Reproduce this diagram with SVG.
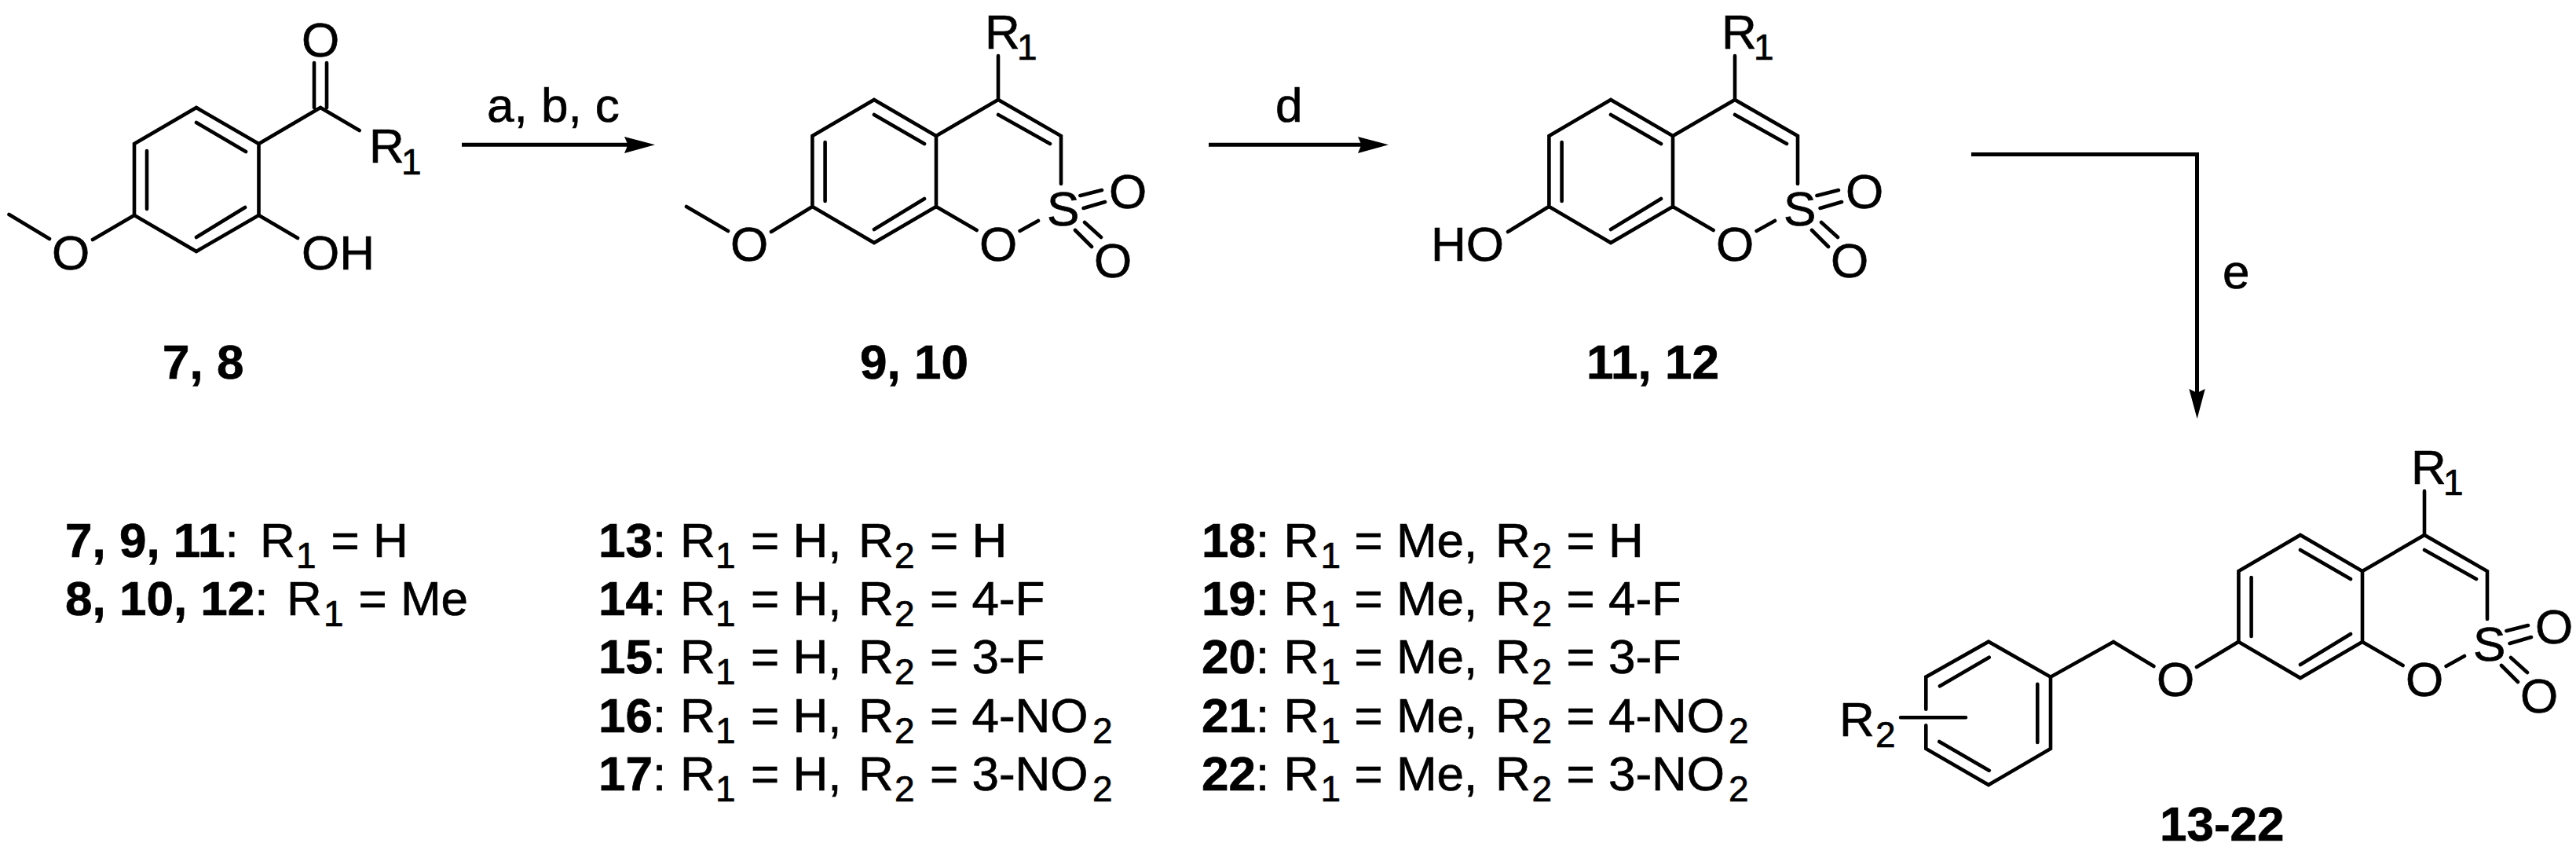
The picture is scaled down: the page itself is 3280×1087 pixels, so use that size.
<svg xmlns="http://www.w3.org/2000/svg" width="3280" height="1087" viewBox="0 0 3280 1087">
<style>
text{font-family:"Liberation Sans",Arial,sans-serif;font-size:62px;fill:#000;stroke:#000;stroke-width:.7}
.b{font-weight:700}
.s{font-size:46px}
.bond{fill:none;stroke:#000;stroke-width:4.6;stroke-linecap:round;stroke-linejoin:miter}
.arr{fill:none;stroke:#000;stroke-width:5}
.head{fill:#000;stroke:none}
</style>
<defs>
<g id="core">
<path class="bond" d="M1034.4 173L1113 127L1192 173L1192 263L1113 309L1034.4 263ZM1192 173L1271 127L1351 173L1351 234M1113 146L1177 183M1271 146L1337 183M1050.6 181L1050.6 256M1177 253L1113 292M1192 263L1243.6 293M1298.6 294L1322 281M1375.4 249L1403 242M1379.6 265L1407 257M1381 283L1402 302M1369 293L1390 314M1271 71L1271 127"/>
<text x="1254" y="62">R</text><text class="s" x="1295" y="76">1</text>
<text x="1247" y="332">O</text>
<text x="1333" y="287">S</text>
<text x="1412" y="265">O</text>
<text x="1393" y="353">O</text>
</g>
</defs>
<rect width="3280" height="1087" fill="#fff"/>
<g id="connectors">
<path class="arr" d="M588 184.2H802"/><path class="head" d="M795 174L834 184.2L795 195L799.5 184.2Z"/>
<path class="arr" d="M1539 184.2H1736"/><path class="head" d="M1729 174L1768 184.2L1729 195L1733.5 184.2Z"/>
<path class="arr" d="M2510 196.5H2797.5V505"/><path class="head" d="M2787.3 495L2797.6 533L2807.8 495L2797.6 500Z"/>
<text x="620" y="155">a, b, c</text>
<text x="1624" y="155">d</text>
<text x="2830" y="367">e</text>
</g>
<g id="compound-7-8">
<path class="bond" d="M171 183L250 137L329.5 183L329.5 274L250 320L171 274ZM329.5 183L408 137L457.6 166M400 80L400 137M416 80L416 137M250 156L313 193M187 192L187 266M312 264L250 302M329.5 274L379 303M171 274L118 305M11.5 273L63 304"/>
<text x="384" y="72">O</text>
<text x="470" y="207">R</text><text class="s" x="511" y="222">1</text>
<text x="384" y="343">OH</text>
<text x="66" y="343">O</text>
<text class="b" x="207" y="482">7, 8</text>
</g>
<g id="compound-9-10">
<use href="#core"/>
<path class="bond" d="M1034.4 263L982 295M874 263L927 294"/>
<text x="930" y="332">O</text>
<text class="b" x="1095" y="482">9, 10</text>
</g>
<g id="compound-11-12">
<use href="#core" x="938"/>
<path class="bond" d="M1972 263L1920 295"/>
<text x="1822" y="332">HO</text>
<text class="b" x="2020" y="482">11, 12</text>
</g>
<g id="compound-13-22">
<use href="#core" x="1816" y="554"/>
<path class="bond" d="M2850 817L2797 849M2691 817L2742.4 848M2691 817L2611 861.7L2532 816.7L2452.3 861.7L2452.3 902.7M2452.3 923.3L2452.3 953L2532 999L2611 953L2611 861.7M2532.7 836.7L2470 873.3M2594.3 870.7L2594.3 945M2532.7 980.7L2469.3 944M2420 913.3L2503 913.3"/>
<text x="2746" y="886">O</text>
<text x="2342" y="937">R</text><text class="s" x="2388" y="951">2</text>
<text class="b" x="2750" y="1070">13-22</text>
</g>
<g id="legend-a">
<text y="709"><tspan x="83" class="b">7, 9, 11</tspan>:<tspan x="331">R</tspan><tspan class="s" x="377" dy="14">1</tspan><tspan x="421.5" dy="-14">= H</tspan></text>
<text y="783"><tspan x="83" class="b">8, 10, 12</tspan>:<tspan x="365">R</tspan><tspan class="s" x="412" dy="14">1</tspan><tspan x="456.5" dy="-14">= Me</tspan></text>
</g>
<g id="legend-b">
<text y="709"><tspan x="762" class="b">13</tspan>:<tspan x="866">R</tspan><tspan class="s" x="911" dy="14">1</tspan><tspan x="956" dy="-14">= H,</tspan><tspan x="1093">R</tspan><tspan class="s" x="1139" dy="14">2</tspan><tspan x="1184" dy="-14">= H</tspan></text>
<text y="783"><tspan x="762" class="b">14</tspan>:<tspan x="866">R</tspan><tspan class="s" x="911" dy="14">1</tspan><tspan x="956" dy="-14">= H,</tspan><tspan x="1093">R</tspan><tspan class="s" x="1139" dy="14">2</tspan><tspan x="1184" dy="-14">= 4-F</tspan></text>
<text y="857"><tspan x="762" class="b">15</tspan>:<tspan x="866">R</tspan><tspan class="s" x="911" dy="14">1</tspan><tspan x="956" dy="-14">= H,</tspan><tspan x="1093">R</tspan><tspan class="s" x="1139" dy="14">2</tspan><tspan x="1184" dy="-14">= 3-F</tspan></text>
<text y="931.5"><tspan x="762" class="b">16</tspan>:<tspan x="866">R</tspan><tspan class="s" x="911" dy="14">1</tspan><tspan x="956" dy="-14">= H,</tspan><tspan x="1093">R</tspan><tspan class="s" x="1139" dy="14">2</tspan><tspan x="1184" dy="-14">= 4-NO</tspan><tspan class="s" x="1391" dy="14">2</tspan></text>
<text y="1005.5"><tspan x="762" class="b">17</tspan>:<tspan x="866">R</tspan><tspan class="s" x="911" dy="14">1</tspan><tspan x="956" dy="-14">= H,</tspan><tspan x="1093">R</tspan><tspan class="s" x="1139" dy="14">2</tspan><tspan x="1184" dy="-14">= 3-NO</tspan><tspan class="s" x="1391" dy="14">2</tspan></text>
</g>
<g id="legend-c">
<text y="709"><tspan x="1530" class="b">18</tspan>:<tspan x="1634.5">R</tspan><tspan class="s" x="1681.5" dy="14">1</tspan><tspan x="1724.5" dy="-14">= Me,</tspan><tspan x="1904">R</tspan><tspan class="s" x="1950.5" dy="14">2</tspan><tspan x="1994.5" dy="-14">= H</tspan></text>
<text y="783"><tspan x="1530" class="b">19</tspan>:<tspan x="1634.5">R</tspan><tspan class="s" x="1681.5" dy="14">1</tspan><tspan x="1724.5" dy="-14">= Me,</tspan><tspan x="1904">R</tspan><tspan class="s" x="1950.5" dy="14">2</tspan><tspan x="1994.5" dy="-14">= 4-F</tspan></text>
<text y="857"><tspan x="1530" class="b">20</tspan>:<tspan x="1634.5">R</tspan><tspan class="s" x="1681.5" dy="14">1</tspan><tspan x="1724.5" dy="-14">= Me,</tspan><tspan x="1904">R</tspan><tspan class="s" x="1950.5" dy="14">2</tspan><tspan x="1994.5" dy="-14">= 3-F</tspan></text>
<text y="931.5"><tspan x="1530" class="b">21</tspan>:<tspan x="1634.5">R</tspan><tspan class="s" x="1681.5" dy="14">1</tspan><tspan x="1724.5" dy="-14">= Me,</tspan><tspan x="1904">R</tspan><tspan class="s" x="1950.5" dy="14">2</tspan><tspan x="1994.5" dy="-14">= 4-NO</tspan><tspan class="s" x="2201" dy="14">2</tspan></text>
<text y="1005.5"><tspan x="1530" class="b">22</tspan>:<tspan x="1634.5">R</tspan><tspan class="s" x="1681.5" dy="14">1</tspan><tspan x="1724.5" dy="-14">= Me,</tspan><tspan x="1904">R</tspan><tspan class="s" x="1950.5" dy="14">2</tspan><tspan x="1994.5" dy="-14">= 3-NO</tspan><tspan class="s" x="2201" dy="14">2</tspan></text>
</g>
</svg>
